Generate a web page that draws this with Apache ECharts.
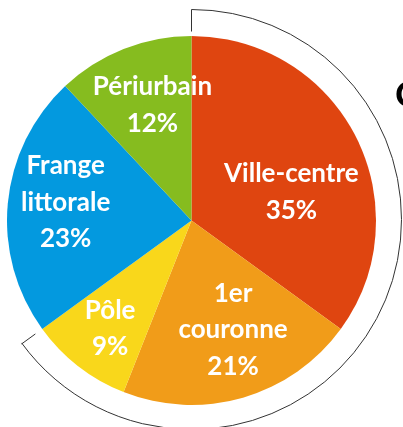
<!DOCTYPE html>
<html>
<head>
<meta charset="utf-8">
<script src="https://cdn.jsdelivr.net/npm/echarts@6/dist/echarts.min.js"></script>
<style>
html,body{margin:0;padding:0;background:#fff;}
#c{width:403px;height:427px;}
</style>
</head>
<body>
<div id="c"></div>
<script>
const categories = ['Ville-centre', '1er couronne', 'Pôle', 'Frange littorale', 'Périurbain'];
const values = [35, 21, 9, 23, 12];
const colors = ['#DF4510', '#F19C19', '#F9D71B', '#0399DF', '#86BC1F'];
const labelOffsets = [[15, 15], [15, 18], [-23, 33], [-31, -9], [-4, -27]];

const cx = 191.5, cy = 220.5, R = 184.5, arcR = 210;
const arcEndDeg = 234; // clockwise from 12 o'clock
const toXY = (deg, r) => [cx + r * Math.sin(deg * Math.PI / 180), cy - r * Math.cos(deg * Math.PI / 180)];

const chart = echarts.init(document.getElementById('c'), null, {renderer: 'canvas'});
chart.setOption({
  animation: false,
  series: [{
    type: 'pie',
    center: [cx, cy],
    radius: [0, R],
    startAngle: 90,
    clockwise: true,
    silent: true,
    itemStyle: {borderWidth: 0},
    label: {
      show: true,
      position: 'inside',
      color: '#fff',
      fontFamily: 'Lato',
      fontWeight: 'bold',
      fontSize: 26,
      lineHeight: 36.5,
      align: 'center',
      formatter: p => p.name.replace(' ', '\n') + '\n' + p.value + '%'
    },
    labelLayout: p => ({dx: labelOffsets[p.dataIndex][0], dy: labelOffsets[p.dataIndex][1]}),
    data: categories.map((n, i) => ({name: n, value: values[i], itemStyle: {color: colors[i]}}))
  }],
  graphic: [
    {
      type: 'arc',
      shape: {cx: cx, cy: cy - 1, r: arcR, startAngle: -Math.PI / 2, endAngle: (arcEndDeg - 90) * Math.PI / 180, clockwise: true},
      style: {stroke: '#333', lineWidth: 1, fill: null}
    },
    {
      type: 'polyline',
      shape: {points: [toXY(0, arcR + 1), toXY(0, 189)]},
      style: {stroke: '#333', lineWidth: 1, fill: null}
    },
    {
      type: 'polyline',
      shape: {points: [toXY(arcEndDeg, arcR), toXY(arcEndDeg, 193)]},
      style: {stroke: '#333', lineWidth: 1, fill: null}
    },
    {
      type: 'text',
      x: 395, y: 95,
      style: {text: 'C', fontFamily: 'Lato', fontWeight: 'bold', fontSize: 37, fill: '#000', verticalAlign: 'middle', align: 'left'}
    }
  ]
});
</script>
</body>
</html>
